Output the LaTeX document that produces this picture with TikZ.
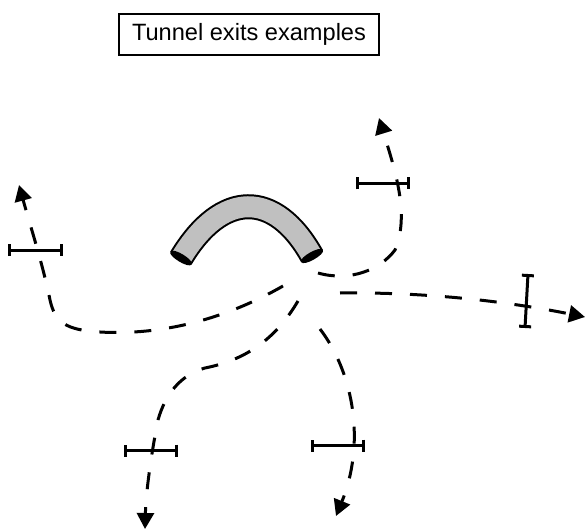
\documentclass[tikz,border=0pt]{standalone}
\usepackage{fontspec}
\setmainfont{Liberation Sans}
\usetikzlibrary{arrows.meta}
\definecolor{tubegray}{RGB}{192,192,192}
\tikzset{
  exitpath/.style={line width=3pt, dash pattern=on 17pt off 18pt, -{Triangle[length=16pt,width=17pt]}},
  gauge/.style={line width=3pt, {Bar[width=12pt]}-{Bar[width=12pt]}},
  titlebox/.style={draw, line width=2.5pt, minimum width=260pt, minimum height=41pt, inner sep=0pt, font=\fontsize{23.6}{28}\selectfont},
  tubeout/.style={line width=25pt, draw=black},
  tubein/.style={line width=21pt, draw=tubegray},
  tubecap/.style={fill=black}
}
\begin{document}
\begin{tikzpicture}[x=1pt,y=-1pt]
\useasboundingbox (0,0) rectangle (585,529);
% title
\node[titlebox] (title) at (249,34.5) {Tunnel exits examples};
% tunnel
\draw[tubeout] (181,258) .. controls (222,190) and (275,190) .. (312,256);
\draw[tubein] (181,258) .. controls (222,190) and (275,190) .. (312,256);
\fill[tubecap] (170.3,251.55) .. controls (173.0,247.0) and (194.4,259.9) .. (191.7,264.45)
   .. controls (189.0,269.0) and (167.6,256.1) .. (170.3,251.55) -- cycle;
\fill[tubecap] (322.9,249.9) .. controls (325.5,254.5) and (303.7,266.7) .. (301.1,262.1)
   .. controls (298.5,257.5) and (320.3,245.3) .. (322.9,249.9) -- cycle;
% start and end coordinates
\coordinate (s1) at (318,273);
\coordinate (m1) at (395,250);
\coordinate (e1) at (379,118);
\coordinate (s2) at (340,293);
\coordinate (e2) at (585,317);
\coordinate (s3) at (283,286);
\coordinate (m3a) at (100,332);
\coordinate (m3b) at (50,300);
\coordinate (e3) at (19,185);
\coordinate (s4) at (298,301);
\coordinate (m4a) at (205,368);
\coordinate (m4b) at (158,420);
\coordinate (e4) at (145,529);
\coordinate (s5) at (320,329);
\coordinate (e5) at (336,516);
% exit paths
\draw[exitpath] (s1) .. controls (350,282) and (380,270) .. (m1) .. controls (410,215) and (395,170) .. (e1);
\draw[exitpath] (s2) .. controls (420,292) and (500,300) .. (e2);
\draw[exitpath] (s3) .. controls (215,325) and (150,335) .. (m3a) .. controls (65,330) and (55,322) .. (m3b) .. controls (43,265) and (30,225) .. (e3);
\draw[exitpath] (s4) .. controls (275,340) and (245,360) .. (m4a) .. controls (180,375) and (165,395) .. (m4b) .. controls (152,450) and (146,490) .. (e4);
\draw[exitpath] (s5) .. controls (355,375) and (365,445) .. (e5);
% gauges
\draw[gauge] (356,183.3) -- (410,183.3);
\draw[gauge] (528,274) -- (525,328);
\draw[gauge] (8,250) -- (63,250);
\draw[gauge] (124,450.7) -- (178,450.7);
\draw[gauge] (311,445.7) -- (365,445.7);
\end{tikzpicture}
\end{document}
